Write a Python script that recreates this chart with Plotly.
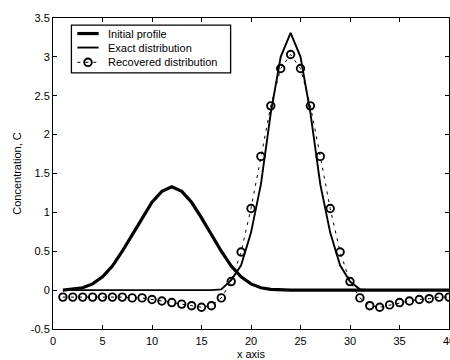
import plotly.graph_objects as go

# Grid positions along the x axis
x_pos = list(range(1, 41))

# Initial concentration profile
initial_profile = [0.00, 0.01, 0.03, 0.08, 0.17, 0.31, 0.50, 0.71, 0.93, 1.13,
                   1.27, 1.33, 1.27, 1.13, 0.93, 0.71, 0.50, 0.31, 0.17, 0.08,
                   0.03, 0.01, 0.00, 0.00, 0.00, 0.00, 0.00, 0.00, 0.00, 0.00,
                   0.00, 0.00, 0.00, 0.00, 0.00, 0.00, 0.00, 0.00, 0.00, 0.00]

# Exact distribution at final time
exact_dist = [0.00, 0.00, 0.00, 0.00, 0.00, 0.00, 0.00, 0.00, 0.00, 0.00,
              0.00, 0.00, 0.00, 0.00, 0.00, 0.00, 0.01, 0.13, 0.32, 0.74,
              1.36, 2.28, 3.00, 3.31, 3.00, 2.28, 1.36, 0.74, 0.32, 0.11,
              0.01, 0.00, 0.00, 0.00, 0.00, 0.00, 0.00, 0.00, 0.00, 0.00]

# Recovered distribution
recovered_dist = [-0.09, -0.09, -0.09, -0.09, -0.09, -0.09, -0.09, -0.10, -0.10, -0.12,
                  -0.14, -0.16, -0.18, -0.20, -0.22, -0.20, -0.10, 0.11, 0.49, 1.05,
                  1.72, 2.37, 2.85, 3.03, 2.85, 2.37, 1.72, 1.05, 0.49, 0.11,
                  -0.10, -0.20, -0.22, -0.19, -0.16, -0.14, -0.12, -0.11, -0.09, -0.09]

# Axis ticks
x_ticks = [0, 5, 10, 15, 20, 25, 30, 35, 40]
y_ticks = [-0.5, 0, 0.5, 1, 1.5, 2, 2.5, 3, 3.5]
y_tick_text = ["-0.5", "0", "0.5", "1", "1.5", "2", "2.5", "3", "3.5"]

legend_labels = ["Initial profile", "Exact distribution", "Recovered distribution"]

FONT = "Arial, Liberation Sans, sans-serif"

fig = go.Figure()
fig.add_trace(go.Scatter(x=x_pos, y=initial_profile, mode="lines",
                         line=dict(color="black", width=3.2), name=legend_labels[0]))
fig.add_trace(go.Scatter(x=x_pos, y=exact_dist, mode="lines",
                         line=dict(color="black", width=1.9), name=legend_labels[1]))
fig.add_trace(go.Scatter(x=x_pos, y=recovered_dist, mode="lines+markers",
                         line=dict(color="black", width=1, dash="3px,5px"),
                         marker=dict(symbol="circle-open", size=7.5, color="black",
                                     line=dict(width=1.9, color="black")),
                         name=legend_labels[2]))

# Hand-built legend box drawn in axis coordinates
box = dict(x0=1.86, x1=17.94, y0=2.795, y1=3.408)
rows = [3.30, 3.12, 2.93]
sx0, sx1, tx = 2.46, 4.61, 5.39

shapes = [
    dict(type="rect", xref="x", yref="y", layer="above",
         x0=box["x0"], x1=box["x1"], y0=box["y0"], y1=box["y1"],
         line=dict(color="black", width=1.3), fillcolor="white"),
    dict(type="line", xref="x", yref="y", layer="above",
         x0=sx0, x1=sx1, y0=rows[0], y1=rows[0], line=dict(color="black", width=3.2)),
    dict(type="line", xref="x", yref="y", layer="above",
         x0=sx0, x1=sx1, y0=rows[1], y1=rows[1], line=dict(color="black", width=1.9)),
    dict(type="line", xref="x", yref="y", layer="above",
         x0=sx0, x1=sx1, y0=rows[2], y1=rows[2],
         line=dict(color="black", width=1, dash="3px,5px")),
    dict(type="circle", xref="x", yref="y", layer="above",
         xsizemode="pixel", ysizemode="pixel",
         xanchor=(sx0 + sx1) / 2, yanchor=rows[2],
         x0=-3.8, x1=3.8, y0=-3.8, y1=3.8,
         line=dict(color="black", width=1.9), fillcolor="rgba(0,0,0,0)"),
]

annotations = [
    dict(x=tx, y=r, xref="x", yref="y", text=t, showarrow=False,
         xanchor="left", yanchor="middle", font=dict(family=FONT, size=11, color="black"))
    for r, t in zip(rows, legend_labels)
]

fig.update_layout(
    width=450, height=360,
    margin=dict(l=53, r=1, t=18, b=31, autoexpand=False),
    paper_bgcolor="white", plot_bgcolor="white",
    showlegend=False,
    font=dict(family=FONT, size=11, color="black"),
    shapes=shapes, annotations=annotations,
    xaxis=dict(range=[0, 40], tickvals=x_ticks, ticks="inside", ticklen=4,
               tickcolor="black", showline=True, linecolor="black", linewidth=1,
               mirror="ticks", showgrid=False, zeroline=False, automargin=False,
               ticklabeloverflow="allow", ticklabelstandoff=2,
               title=dict(text="x axis", standoff=9, font=dict(size=11))),
    yaxis=dict(range=[-0.5, 3.5], tickvals=y_ticks, ticktext=y_tick_text,
               ticks="inside", ticklen=4, tickcolor="black", showline=True,
               linecolor="black", linewidth=1, mirror="ticks", showgrid=False,
               zeroline=False, automargin=False,
               title=dict(text="Concentration, C", standoff=6, font=dict(size=11))),
)

fig.write_html("out.html")
